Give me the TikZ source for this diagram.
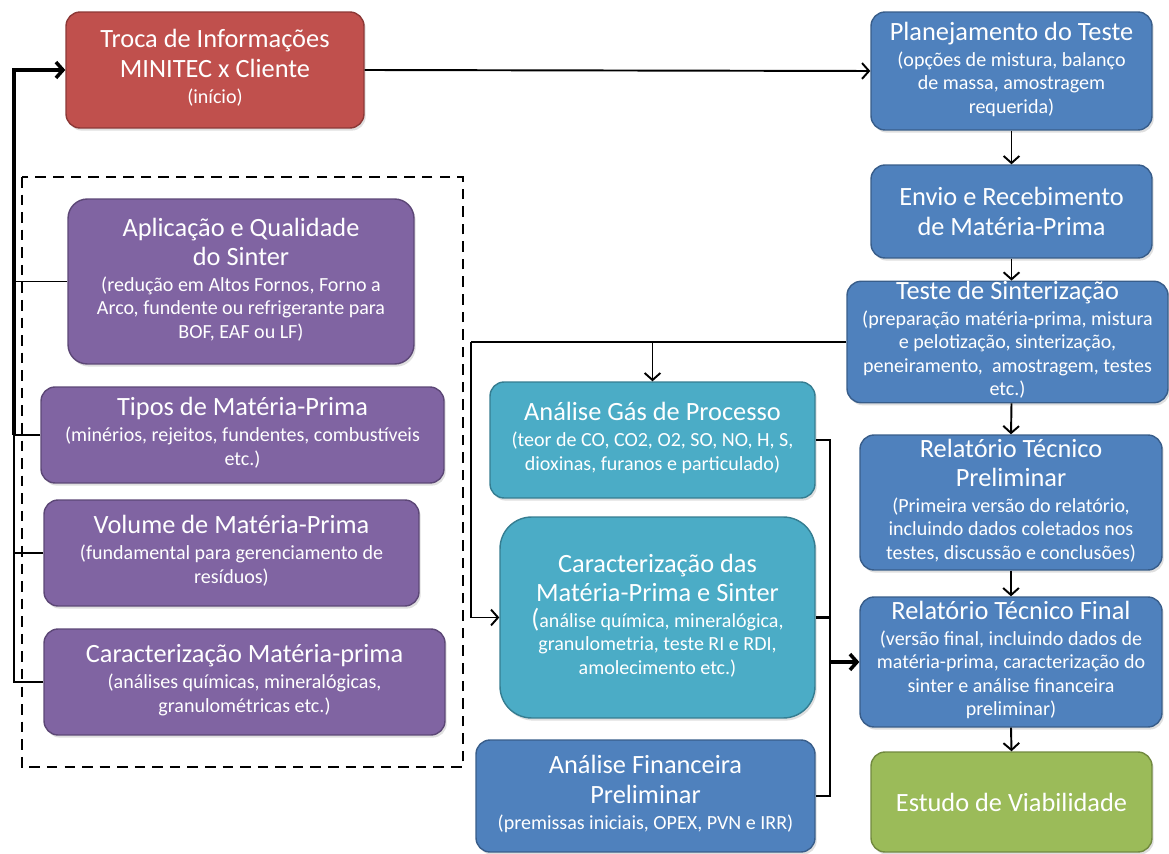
\documentclass[tikz,border=0pt]{standalone}
\usepackage{fontspec}
\setmainfont{Carlito}
\usetikzlibrary{arrows.meta,shadows}
\definecolor{redfill}{HTML}{C0504D}
\definecolor{redline}{HTML}{8C3836}
\definecolor{purplefill}{HTML}{8064A2}
\definecolor{purpleline}{HTML}{5C4776}
\definecolor{bluefill}{HTML}{4F81BD}
\definecolor{blueline}{HTML}{385D8A}
\definecolor{cyanfill}{HTML}{4BACC6}
\definecolor{cyanline}{HTML}{357D91}
\definecolor{greenfill}{HTML}{9BBB59}
\definecolor{greenline}{HTML}{71893F}
% smaller lines under a box title
\newcommand{\detail}[1]{{\fontsize{11.4}{13.3}\selectfont\begin{tabular}[t]{@{}c@{}}#1\end{tabular}}}
\begin{document}
\begin{tikzpicture}[x=0.02cm, y=-0.02cm,
      box/.style={draw, line width=0.8pt, rounded corners=8pt, text=white,
        align=center, inner sep=0pt, font=\fontsize{15}{16.8}\selectfont,
        drop shadow={opacity=0.25, shadow xshift=1pt, shadow yshift=-1.5pt}},
      redbox/.style={box, fill=redfill, draw=redline},
      purplebox/.style={box, fill=purplefill, draw=purpleline},
      bluebox/.style={box, fill=bluefill, draw=blueline},
      cyanbox/.style={box, fill=cyanfill, draw=cyanline},
      greenbox/.style={box, fill=greenfill, draw=greenline},
      link/.style={line width=1.1pt},
      arrow/.style={link, -{Straight Barb[length=4pt, width=9pt]}},
      bigarrow/.style={line width=2pt, -{Straight Barb[length=4pt, width=9pt]}},
      frame/.style={line width=1pt, dash pattern=on 6pt off 4pt},
    ]
    \useasboundingbox (0,0) rectangle (1169,854);
    % Group of inputs
    \draw[frame] (22,177) rectangle (463,767);
    \node[redbox, minimum width=5.96cm, minimum height=2.32cm] (troca) at (215,70)
      {Troca de Informações\\MINITEC x Cliente\\[-2pt]\detail{(início)}};
    \node[purplebox, minimum width=6.92cm, minimum height=3.30cm, rounded corners=11pt] (aplic) at (241,281.5)
      {Aplicação e Qualidade\\do Sinter\\[-2pt]\detail{(redução em Altos Fornos, Forno a\\Arco, fundente ou refrigerante para\\BOF, EAF ou LF)}};
    \node[purplebox, minimum width=8.06cm, minimum height=1.92cm] (tipos) at (242.5,435)
      {Tipos de Matéria-Prima\\[-2pt]\detail{(minérios, rejeitos, fundentes, combustíveis\\etc.)}};
    \node[purplebox, minimum width=7.50cm, minimum height=2.12cm] (volume) at (231.5,553)
      {Volume de Matéria-Prima\\[-2pt]\detail{(fundamental para gerenciamento de\\resíduos)}};
    \node[purplebox, minimum width=8.02cm, minimum height=2.12cm] (caracmp) at (244.5,682)
      {Caracterização Matéria-prima\\[-2pt]\detail{(análises químicas, mineralógicas,\\granulométricas etc.)}};
    % Test flow
    \node[bluebox, minimum width=5.62cm, minimum height=2.36cm] (plan) at (1011.5,71)
      {Planejamento do Teste\\[-2pt]\detail{(opções de mistura, balanço\\de massa, amostragem\\requerida)}};
    \node[bluebox, minimum width=5.62cm, minimum height=1.86cm] (envio) at (1011.5,211.5)
      {Envio e Recebimento\\de Matéria-Prima};
    \node[bluebox, minimum width=6.42cm, minimum height=2.40cm] (teste) at (1007.5,342)
      {Teste de Sinterização\\[-2pt]\detail{(preparação matéria-prima, mistura\\e pelotização, sinterização,\\peneiramento,\ \ amostragem, testes\\etc.)}};
    \node[bluebox, minimum width=6.04cm, minimum height=2.70cm] (relprel) at (1011,502.5)
      {Relatório Técnico\\Preliminar\\[-2pt]\detail{(Primeira versão do relatório,\\incluindo dados coletados nos\\testes, discussão e conclusões)}};
    \node[bluebox, minimum width=6.04cm, minimum height=2.60cm] (relfin) at (1011,662)
      {Relatório Técnico Final\\[-2pt]\detail{(versão final, incluindo dados de\\matéria-prima, caracterização do\\sinter e análise financeira\\preliminar)}};
    \node[greenbox, minimum width=5.62cm, minimum height=2.00cm] (estudo) at (1011.5,802)
      {Estudo de Viabilidade};
    % Analyses
    \node[cyanbox, minimum width=6.50cm, minimum height=2.32cm] (gas) at (652.5,440)
      {Análise Gás de Processo\\[-2pt]\detail{(teor de CO, CO2, O2, SO, NO, H, S,\\dioxinas, furanos e particulado)}};
    \node[cyanbox, minimum width=6.30cm, minimum height=4.02cm, rounded corners=18pt] (caracdas) at (657.5,617.5)
      {Caracterização das\\Matéria-Prima e Sinter\\[-2pt]\detail{{\fontsize{15}{15}\selectfont(}análise química, mineralógica,\\granulometria, teste RI e RDI,\\amolecimento etc.)}};
    \node[bluebox, minimum width=6.78cm, minimum height=2.24cm] (finan) at (645.5,796)
      {Análise Financeira\\Preliminar\\[-2pt]\detail{(premissas iniciais, OPEX, PVN e IRR)}};
    % Left trunk
    \coordinate (trunk) at (14,0);
    \draw[link] (caracmp.west) -- (caracmp.west -| trunk) -- (tipos.west -| trunk);
    \draw[link] (volume.west) -- (volume.west -| trunk);
    \draw[link] (aplic.west) -- (aplic.west -| trunk);
    \draw[link] (tipos.west) -- (tipos.west -| trunk);
    \draw[bigarrow] (tipos.west -| trunk) |- (troca.west);
    \draw[arrow] (troca.east) -- (plan.west);
    % Main chain
    \draw[arrow] (plan.south) -- (envio.north);
    \draw[arrow] (envio.south) -- (envio.south |- teste.north);
    \draw[arrow] (envio.south |- teste.south) -- (relprel.north);
    \draw[arrow] (relprel.south) -- (relfin.north);
    \draw[arrow] (relfin.south) -- (estudo.north);
    % Split to analyses
    \coordinate (split) at (471,0);
    \draw[link] (teste.west) -- (teste.west -| split);
    \draw[arrow] (teste.west -| gas.north) -- (gas.north);
    \draw[arrow] (teste.west -| split) |- (caracdas.west);
    % Merge into final report
    \coordinate (merge) at (830,0);
    \draw[link] (gas.east) -| (merge |- finan.east) -- (finan.east);
    \draw[line width=1.6pt] (caracdas.east) -- (caracdas.east -| merge);
    \draw[bigarrow] (relfin.west -| merge) -- (relfin.west);
  \end{tikzpicture}
\end{document}
